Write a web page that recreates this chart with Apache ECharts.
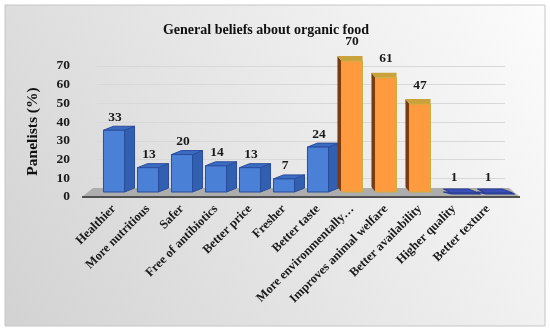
<!DOCTYPE html>
<html><head><meta charset="utf-8">
<script src="https://cdn.jsdelivr.net/npm/echarts@6/dist/echarts.min.js"></script>
<style>html,body{margin:0;padding:0;background:#fff}#c{width:550px;height:332px}</style>
</head><body><div id="c"></div>
<script>
var titleText = 'General beliefs about organic food';
var yAxisName = 'Panelists (%)';
var categories = ['Healthier','More nutritious','Safer','Free of antibiotics','Better price','Fresher','Better taste','More environmentally\u2026','Improves animal welfare','Better availability','Higher quality','Better texture'];
var values = [33,13,20,14,13,7,24,70,61,47,1,1];
var groups = ['b','b','b','b','b','b','b','o','o','o','b','b'];
var yTicks = [0,10,20,30,40,50,60,70];

var FONT = '"Liberation Serif", "DejaVu Serif", serif';
var chart = echarts.init(document.getElementById('c'), null, {renderer:'canvas'});

var palette = {
  b: {front:'#4a80d6', side:'#3260b0', top:'#3a6cc4', edge:'#2a4c9c'},
  o: {front:'#ff9a3e', side:'#7a3a10', top:'#c9a23c', edge:'#c8b040'}
};

function renderItem(params, api){
  var idx = api.value(0), v = api.value(1), g = groups[idx];
  var c = palette[g];
  var base = api.coord([idx, 0]);
  var top = api.coord([idx, v]);
  var bw = api.size([1,0])[0];
  var w = bw*0.62;
  var lift = 5;
  var x0 = base[0]-w/2, x1 = base[0]+w/2;
  var yb = base[1]-lift, yt = top[1]-lift;
  var children = [];
  var cs = params.coordSys;
  if (idx === 0) {
    var gy = cs.y + cs.height;
    children.push({type:'polygon', silent:true, shape:{points:[[cs.x-15,gy],[cs.x+cs.width+15,gy],[cs.x+cs.width+4,gy-9],[cs.x-4,gy-9]]}, style:{fill:'#adadad'}});
    children.push({type:'line', silent:true, shape:{x1:cs.x-15,y1:gy,x2:cs.x+cs.width+15,y2:gy}, style:{stroke:'#505050', lineWidth:2}});
  }
  var labelY;
  if (v <= 2) {
    children.push({type:'polygon', shape:{points:[[x0,yb],[x1+6,yb],[x1+16,yb+2],[x0+8,yb+2]]}, style:{fill:'#3a4fb0', stroke:'#2a3c90', lineWidth:1}});
    children.push({type:'polygon', shape:{points:[[x0,yb-3],[x1+4,yb-3],[x1+14,yb+1],[x0+8,yb+1]]}, style:{fill:'#3a4fb8', stroke:'#2a3c90', lineWidth:1}});
    labelY = yb - 14;
  } else if (g === 'b') {
    var dx = 10, dy = 4;
    children.push({type:'polygon', shape:{points:[[x1,yb],[x1+dx,yb-dy],[x1+dx,yt-dy],[x1,yt]]}, style:{fill:c.side, stroke:c.edge, lineWidth:1}});
    children.push({type:'polygon', shape:{points:[[x0,yt],[x0+dx,yt-dy],[x1+dx,yt-dy],[x1,yt]]}, style:{fill:c.top, stroke:c.edge, lineWidth:1}});
    children.push({type:'rect', shape:{x:x0,y:yt,width:w,height:yb-yt}, style:{fill:c.front, stroke:c.edge, lineWidth:1}});
    labelY = yt - 13;
  } else {
    var dx2 = -4, dy2 = 5;
    children.push({type:'polygon', shape:{points:[[x0,yb],[x0+dx2,yb-dy2],[x0+dx2,yt-dy2],[x0,yt]]}, style:{fill:c.side}});
    children.push({type:'polygon', shape:{points:[[x0+dx2,yt-dy2],[x1,yt-dy2],[x1,yt],[x0,yt]]}, style:{fill:c.top}});
    children.push({type:'rect', shape:{x:x0,y:yt,width:w,height:yb-yt}, style:{fill:c.front, stroke:c.edge, lineWidth:1}});
    labelY = yt - 19;
  }
  children.push({type:'text', silent:true, style:{text:String(v), x:base[0]+(g==='b'&&v>2?1:0), y:labelY, align:'center', verticalAlign:'middle', font:'bold 13.5px '+FONT, fill:'#1a1a1a'}});
  return {type:'group', children:children};
}

var data = values.map(function(v,i){ return [i, v]; });

chart.setOption({
  backgroundColor:'#ffffff',
  animation:false,
  graphic:[{type:'rect', z:-10, silent:true, shape:{x:5,y:5,width:540,height:321},
    style:{fill:new echarts.graphic.LinearGradient(1,0,0,1,[{offset:0,color:'#fcfcfc'},{offset:1,color:'#d2d2d2'}]), stroke:'#c6c6c6', lineWidth:1}}],
  title:{text:titleText, left:261, top:18, textAlign:'center',
    textStyle:{fontFamily:FONT, fontWeight:'bold', fontSize:14, color:'#111'}},
  grid:{left:97, right:45, top:66, bottom:135},
  xAxis:{type:'category', data:categories, boundaryGap:true,
    axisLine:{show:false}, axisTick:{show:false},
    axisLabel:{interval:0, rotate:45, margin:10, fontFamily:FONT, fontWeight:'bold', fontSize:12.5, color:'#1a1a1a'}},
  yAxis:{type:'value', min:yTicks[0], max:yTicks[yTicks.length-1], interval:10,
    name:yAxisName, nameLocation:'middle', nameGap:56, nameRotate:90,
    nameTextStyle:{fontFamily:FONT, fontWeight:'bold', fontSize:15.5, color:'#111'},
    axisLine:{show:false}, axisTick:{show:false},
    axisLabel:{margin:27, fontFamily:FONT, fontWeight:'bold', fontSize:13.5, color:'#1a1a1a'},
    splitLine:{lineStyle:{color:'#d8d8d8', width:1}}},
  series:[{type:'custom', renderItem:renderItem, data:data, encode:{x:0,y:1}, clip:false}]
});
</script></body></html>
